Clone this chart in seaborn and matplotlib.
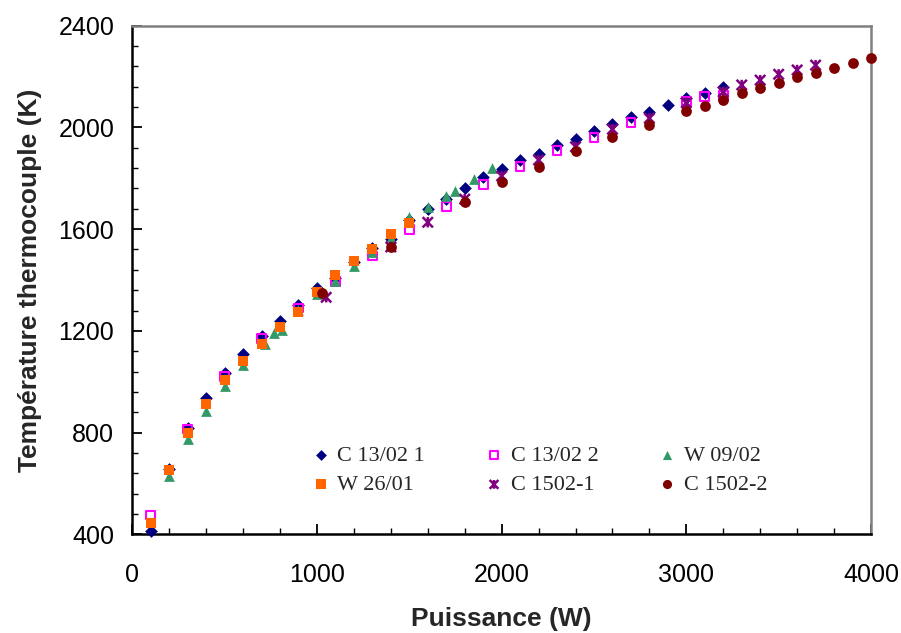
import matplotlib
matplotlib.use("Agg")
import matplotlib.pyplot as plt
import pandas as pd
import seaborn as sns
from matplotlib.path import Path
from matplotlib.ticker import MultipleLocator

# Data
c1302_1_w = [100, 200, 300, 400, 500, 600, 700, 800, 900, 1000, 1100, 1200, 1300, 1400, 1500, 1600,
             1700, 1800, 1900, 2000, 2100, 2200, 2300, 2400, 2500, 2600, 2700, 2800, 2900, 3000, 3100, 3200]
c1302_1_t = [413, 655, 819, 935, 1033, 1110, 1178, 1238, 1300, 1367, 1408, 1470, 1525, 1560, 1636, 1680,
             1718, 1762, 1806, 1838, 1872, 1895, 1932, 1955, 1985, 2012, 2040, 2060, 2088, 2114, 2136, 2160]

c1302_2_w = [100, 300, 500, 700, 900, 1100, 1300, 1500, 1700, 1900, 2100, 2300, 2500, 2700, 3000, 3100, 3200]
c1302_2_t = [476, 814, 1022, 1171, 1290, 1393, 1494, 1600, 1688, 1776, 1846, 1909, 1961, 2019, 2101, 2121, 2127]

w0902_w = [200, 300, 400, 500, 600, 720, 765, 810, 900, 1000, 1100, 1200, 1300, 1400, 1500, 1600,
           1700, 1750, 1850, 1950]
w0902_t = [630, 775, 885, 983, 1065, 1148, 1192, 1205, 1282, 1344, 1395, 1455, 1511, 1564, 1647, 1688,
           1730, 1751, 1797, 1839]

w2601_w = [100, 200, 300, 400, 500, 600, 700, 800, 900, 1000, 1100, 1200, 1300, 1400, 1500]
w2601_t = [446, 653, 800, 913, 1007, 1081, 1150, 1216, 1275, 1354, 1420, 1475, 1522, 1581, 1625]

c1502_1_w = [1050, 1400, 1600, 1800, 2000, 2200, 2400, 2600, 2800, 3000, 3200, 3300, 3400, 3500, 3600, 3700]
c1502_1_t = [1332, 1530, 1627, 1718, 1809, 1872, 1924, 1993, 2036, 2097, 2140, 2167, 2186, 2209, 2226, 2245]

c1502_2_w = [1030, 1400, 1800, 2000, 2200, 2400, 2600, 2800, 3000, 3100, 3200, 3300, 3400, 3500, 3600,
             3700, 3800, 3900, 4000]
c1502_2_t = [1350, 1531, 1708, 1784, 1843, 1907, 1961, 2009, 2065, 2084, 2108, 2137, 2154, 2176, 2198,
             2213, 2233, 2254, 2272]

series = [
    ("C 13/02 1", c1302_1_w, c1302_1_t),
    ("C 13/02 2", c1302_2_w, c1302_2_t),
    ("W 09/02", w0902_w, w0902_t),
    ("W 26/01", w2601_w, w2601_t),
    ("C 1502-1", c1502_1_w, c1502_1_t),
    ("C 1502-2", c1502_2_w, c1502_2_t),
]

# Excel-like star marker: an X with a vertical bar
star = Path([(-1, -1), (1, 1), (-1, 1), (1, -1), (0, -1), (0, 1)],
            [Path.MOVETO, Path.LINETO, Path.MOVETO, Path.LINETO, Path.MOVETO, Path.LINETO])

styles = {
    "C 13/02 1": dict(marker="D", s=42, color="#000080", edgecolor="#000080", linewidth=0),
    "C 13/02 2": dict(marker="s", s=40, facecolor="none", edgecolor="#FF00FF", linewidth=1.5),
    "W 09/02": dict(marker="^", s=60, color="#339966", edgecolor="#339966", linewidth=0),
    "W 26/01": dict(marker="s", s=60, color="#FF6600", edgecolor="#FF6600", linewidth=0),
    "C 1502-1": dict(marker=star, s=55, facecolor="none", edgecolor="#800080", linewidth=1.8),
    "C 1502-2": dict(marker="o", s=60, color="#800000", edgecolor="#800000", linewidth=0),
}

sns.set_style("white")
plt.rcParams["font.family"] = ["Arial", "Liberation Sans", "DejaVu Sans"]

fig = plt.figure(figsize=(9.01, 6.33), dpi=100)
ax = fig.add_axes([0.1468, 0.1559, 0.8199, 0.8035])

for name, w, t in series:
    df = pd.DataFrame({"w": w, "t": t})
    sns.scatterplot(data=df, x="w", y="t", ax=ax, label=name, clip_on=False, zorder=3, **styles[name])

ax.set_xlim(0, 4000)
ax.set_ylim(400, 2400)
ax.xaxis.set_major_locator(MultipleLocator(1000))
ax.xaxis.set_minor_locator(MultipleLocator(200))
ax.yaxis.set_major_locator(MultipleLocator(400))
ax.yaxis.set_minor_locator(MultipleLocator(80))
ax.tick_params(which="major", direction="in", length=7, width=1.3, labelsize=18, color="black",
               labelcolor="black", bottom=True, left=True)
ax.tick_params(which="minor", direction="in", length=4, width=1.0, color="black", bottom=True, left=True)
ax.tick_params(axis="x", pad=21)
ax.tick_params(axis="y", pad=13)

for side in ["left", "bottom"]:
    ax.spines[side].set_color("black")
    ax.spines[side].set_linewidth(1.8)
for side in ["top", "right"]:
    ax.spines[side].set_color("#808080")
    ax.spines[side].set_linewidth(1.8)

ax.set_xlabel("Puissance (W)", fontsize=19, fontweight="bold", labelpad=14)
ax.set_ylabel("Température thermocouple (K)", fontsize=19, fontweight="bold", labelpad=12)

handles, labels = ax.get_legend_handles_labels()
order = [0, 3, 1, 4, 2, 5]
ax.legend([handles[i] for i in order], [labels[i] for i in order], ncol=3, frameon=False,
          loc="center", bbox_to_anchor=(0.55, 0.126),
          prop={"family": "Liberation Serif", "size": 16},
          handletextpad=0.25, columnspacing=2.6, labelspacing=0.4, handlelength=1.0,
          markerscale=0.85)

fig.savefig("out.png", dpi=100)
